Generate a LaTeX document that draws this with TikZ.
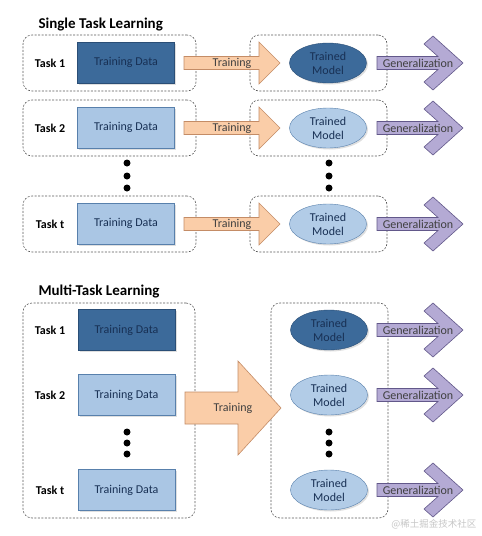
\documentclass[tikz,border=0pt]{standalone}
\usepackage{fontspec}
\setmainfont{Carlito}
\newfontfamily\cjk{Noto Sans CJK SC}
\usetikzlibrary{shapes.geometric,shadows}
\definecolor{dkfill}{RGB}{60,106,154}
\definecolor{dkline}{RGB}{42,78,118}
\definecolor{dktext}{RGB}{24,48,84}
\definecolor{ltfill}{RGB}{170,198,228}
\definecolor{ltline}{RGB}{88,128,172}
\definecolor{peach}{RGB}{250,205,168}
\definecolor{peachline}{RGB}{196,140,102}
\definecolor{lavender}{RGB}{180,170,212}
\definecolor{lavline}{RGB}{98,88,138}
\begin{document}
\begin{tikzpicture}[
    x=1pt, y=-1pt,
    mybox/.style={draw=black!65, line width=0.6pt, dash pattern=on 2pt off 1.5pt, rounded corners=9pt, inner sep=0pt},
    mydata/.style={draw=ltline, fill=ltfill, text=dktext, minimum width=97pt, minimum height=41pt, inner sep=0pt, font=\fontsize{12}{14}\selectfont, drop shadow={opacity=0.25, shadow xshift=1.5pt, shadow yshift=-1.5pt}},
    mydatadark/.style={mydata, draw=dkline, fill=dkfill},
    mymodel/.style={ellipse, draw=ltline, fill=ltfill!90!white, text=dktext, minimum width=77pt, minimum height=40pt, inner sep=0pt, align=center, font=\fontsize{12}{14}\selectfont, drop shadow={opacity=0.25, shadow xshift=1.5pt, shadow yshift=-1.5pt}},
    mymodeldark/.style={mymodel, draw=dkline, fill=dkfill},
    mytrain/.style={draw=peachline, fill=peach, line width=0.6pt, line join=miter},
    mygen/.style={draw=lavline, fill=lavender, line width=0.6pt, line join=miter},
    mylabel/.style={font=\fontsize{12}{14}\selectfont, text=black!75},
    mytask/.style={font=\bfseries\fontsize{12}{14}\selectfont},
    mytitle/.style={font=\bfseries\fontsize{15}{18}\selectfont, anchor=west}
]
    \useasboundingbox[fill=white] (0,0) rectangle (482,536);

    % Single task learning
    \node[mytitle] (stitle) at (35,25) {Single Task Learning};

    % Dashed task boxes
    \node[mybox, minimum width=173pt, minimum height=56pt] (sleft1) at (109.5,63) {};
    \node[mybox, minimum width=137pt, minimum height=56pt] (sright1) at (318.5,63) {};
    \node[mybox, minimum width=173pt, minimum height=56pt] (sleft2) at (109.5,128) {};
    \node[mybox, minimum width=137pt, minimum height=56pt] (sright2) at (318.5,128) {};
    \node[mybox, minimum width=173pt, minimum height=56pt] (sleftt) at (109.5,224) {};
    \node[mybox, minimum width=137pt, minimum height=56pt] (srightt) at (318.5,224) {};

    % Training arrows
    \draw[mytrain] (184,56.5) -- ++(75,0) -- ++(0,-14.5) -- ++(21,21) -- ++(-21,21) -- ++(0,-14.5) -- ++(-75,0) -- cycle;
    \draw[mytrain] (184,121.5) -- ++(75,0) -- ++(0,-14.5) -- ++(21,21) -- ++(-21,21) -- ++(0,-14.5) -- ++(-75,0) -- cycle;
    \draw[mytrain] (184,217.5) -- ++(75,0) -- ++(0,-14.5) -- ++(21,21) -- ++(-21,21) -- ++(0,-14.5) -- ++(-75,0) -- cycle;
    \node[mylabel] (strain1) at (232,63) {Training};
    \node[mylabel] (strain2) at (232,128) {Training};
    \node[mylabel] (straint) at (232,224) {Training};

    % Generalization arrows
    \draw[mygen] (377,56.5) -- ++(61,0) -- ++(-14,-12.5) -- ++(9,-8) -- ++(30,27) -- ++(-30,27) -- ++(-9,-8) -- ++(14,-12.5) -- ++(-61,0) -- cycle;
    \draw[mygen] (377,121.5) -- ++(61,0) -- ++(-14,-12.5) -- ++(9,-8) -- ++(30,27) -- ++(-30,27) -- ++(-9,-8) -- ++(14,-12.5) -- ++(-61,0) -- cycle;
    \draw[mygen] (377,217.5) -- ++(61,0) -- ++(-14,-12.5) -- ++(9,-8) -- ++(30,27) -- ++(-30,27) -- ++(-9,-8) -- ++(14,-12.5) -- ++(-61,0) -- cycle;
    \node[mylabel] (sgen1) at (418,63) {Generalization};
    \node[mylabel] (sgen2) at (418,128) {Generalization};
    \node[mylabel] (sgent) at (418,224) {Generalization};

    % Tasks, data and models
    \node[mytask] (stask1) at (50,63) {Task 1};
    \node[mytask] (stask2) at (50,128) {Task 2};
    \node[mytask] (staskt) at (50,224) {Task t};
    \node[mydatadark] (sdata1) at (126,62.5) {Training Data};
    \node[mydata] (sdata2) at (126,127.5) {Training Data};
    \node[mydata] (sdatat) at (126,223.5) {Training Data};
    \node[mymodeldark] (smodel1) at (328,63) {Trained\\Model};
    \node[mymodel] (smodel2) at (328,128) {Trained\\Model};
    \node[mymodel] (smodelt) at (328,224) {Trained\\Model};

    % Dots
    \fill (127,163) circle (3.5) (127,176) circle (3.5) (127,188) circle (3.5);
    \fill (329,163) circle (3.5) (329,176) circle (3.5) (329,188) circle (3.5);

    % Multi-task learning
    \node[mytitle] (mtitle) at (35,291) {Multi-Task Learning};

    \node[mybox, minimum width=172pt, minimum height=215pt] (mleft) at (109,410.5) {};
    \node[mybox, minimum width=117pt, minimum height=215pt] (mright) at (329.5,410.5) {};

    % Shared training arrow
    \draw[mytrain] (185,392) -- ++(53,0) -- ++(0,-31) -- ++(43,47) -- ++(-43,47) -- ++(0,-31) -- ++(-53,0) -- cycle;
    \node[mylabel] (mtrain) at (233,408) {Training};

    % Generalization arrows
    \draw[mygen] (377,323.5) -- ++(61,0) -- ++(-14,-12.5) -- ++(9,-8) -- ++(30,27) -- ++(-30,27) -- ++(-9,-8) -- ++(14,-12.5) -- ++(-61,0) -- cycle;
    \draw[mygen] (377,388.5) -- ++(61,0) -- ++(-14,-12.5) -- ++(9,-8) -- ++(30,27) -- ++(-30,27) -- ++(-9,-8) -- ++(14,-12.5) -- ++(-61,0) -- cycle;
    \draw[mygen] (377,483.5) -- ++(61,0) -- ++(-14,-12.5) -- ++(9,-8) -- ++(30,27) -- ++(-30,27) -- ++(-9,-8) -- ++(14,-12.5) -- ++(-61,0) -- cycle;
    \node[mylabel] (mgen1) at (418,330) {Generalization};
    \node[mylabel] (mgen2) at (418,395) {Generalization};
    \node[mylabel] (mgent) at (418,490) {Generalization};

    % Tasks, data and models
    \node[mytask] (mtask1) at (50,330) {Task 1};
    \node[mytask] (mtask2) at (50,395) {Task 2};
    \node[mytask] (mtaskt) at (50,490) {Task t};
    \node[mydatadark] (mdata1) at (126.5,330) {Training Data};
    \node[mydata] (mdata2) at (126.5,395) {Training Data};
    \node[mydata] (mdatat) at (126.5,490) {Training Data};
    \node[mymodeldark] (mmodel1) at (329,330) {Trained\\Model};
    \node[mymodel] (mmodel2) at (329,395) {Trained\\Model};
    \node[mymodel] (mmodelt) at (329,490) {Trained\\Model};

    % Dots
    \fill (127,432) circle (3.5) (127,443) circle (3.5) (127,454) circle (3.5);
    \fill (329,432) circle (3.5) (329,443) circle (3.5) (329,454) circle (3.5);

    % Watermark
    \node[anchor=east, text=black!22, font=\cjk\fontsize{9.5}{11}\selectfont] (mark) at (480,524) {@稀土掘金技术社区};
\end{tikzpicture}
\end{document}
